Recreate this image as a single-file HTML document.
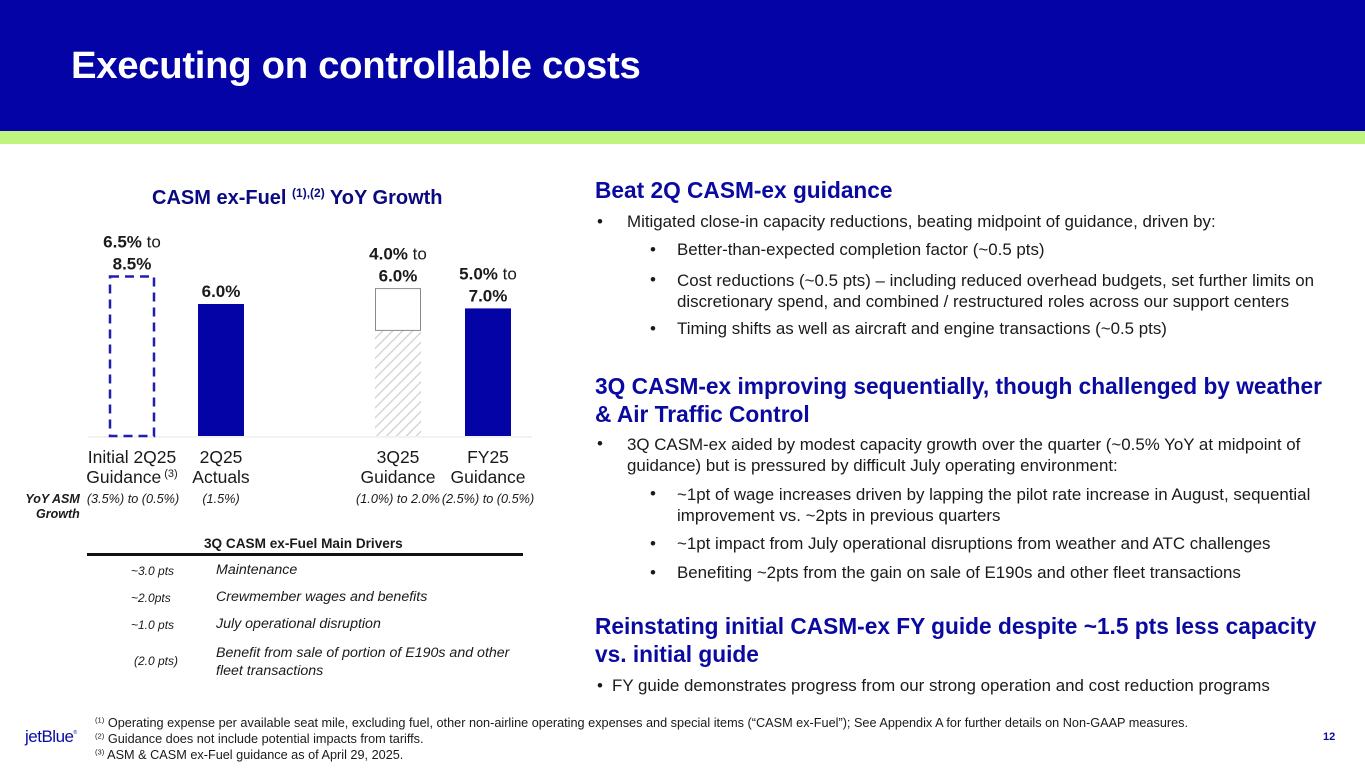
<!DOCTYPE html>
<html><head><meta charset="utf-8"><style>
*{margin:0;padding:0;box-sizing:border-box}
body{width:1365px;height:768px;position:relative;background:#fff;font-family:"Liberation Sans",Arial,sans-serif;overflow:hidden;color:#1a1a1a}
.a{position:absolute;white-space:nowrap}
.h{color:#0a0aa0;font-weight:bold;font-size:22.7px}
.t{font-size:16.9px;color:#1a1a1a}
.i{font-style:italic}
sup{font-size:60%;vertical-align:0.6em;line-height:0}
</style></head><body>
<div class="a" style="left:0;top:0;width:1365px;height:131px;background:#0303a6"></div>
<div class="a" style="left:0;top:131px;width:1365px;height:13px;background:#bff57e"></div>
<div class="a" style="left:71px;top:44px;font-size:38.3px;font-weight:bold;color:#fff;letter-spacing:-0.3px">Executing on controllable costs</div>

<div class="a" style="left:152px;top:187px;font-size:20px;font-weight:bold;color:#0a0a80">CASM ex-Fuel <sup>(1),(2)</sup> YoY Growth</div>

<svg class="a" style="left:0;top:0" width="560" height="530" id="chart"></svg>

<div class="a i" style="left:24px;top:492px;font-size:12.5px;font-weight:bold;text-align:right;line-height:15px;color:#1a1a1a">YoY ASM<br><span style="padding-left:12px">Growth</span></div>

<div class="a" style="left:204px;top:536px;font-size:13.6px;font-weight:bold">3Q CASM ex-Fuel Main Drivers</div>
<div class="a" style="left:87px;top:553px;width:436px;height:3px;background:#111"></div>
<div class="a i" style="left:131px;top:564px;font-size:12px">~3.0 pts</div>
<div class="a i" style="left:216px;top:562px;font-size:14.2px">Maintenance</div>
<div class="a i" style="left:131px;top:591px;font-size:12px">~2.0pts</div>
<div class="a i" style="left:216px;top:589px;font-size:14.2px">Crewmember wages and benefits</div>
<div class="a i" style="left:131px;top:618px;font-size:12px">~1.0 pts</div>
<div class="a i" style="left:216px;top:616px;font-size:14.2px">July operational disruption</div>
<div class="a i" style="left:134px;top:654px;font-size:12px">(2.0 pts)</div>
<div class="a i" style="left:216px;top:644px;font-size:14.2px;line-height:18px">Benefit from sale of portion of E190s and other<br>fleet transactions</div>

<div class="a h" style="left:595px;top:177px">Beat 2Q CASM-ex guidance</div>
<div class="a t" style="left:597px;top:212px">•</div>
<div class="a t" style="left:627px;top:212px">Mitigated close-in capacity reductions, beating midpoint of guidance, driven by:</div>
<div class="a t" style="left:650px;top:240px">•</div>
<div class="a t" style="left:677px;top:240px">Better-than-expected completion factor (~0.5 pts)</div>
<div class="a t" style="left:650px;top:270px">•</div>
<div class="a t" style="left:677px;top:270px;line-height:21px">Cost reductions (~0.5 pts) – including reduced overhead budgets, set further limits on<br>discretionary spend, and combined / restructured roles across our support centers</div>
<div class="a t" style="left:650px;top:319px">•</div>
<div class="a t" style="left:677px;top:319px">Timing shifts as well as aircraft and engine transactions (~0.5 pts)</div>

<div class="a h" style="left:595px;top:372px;line-height:28px">3Q CASM-ex improving sequentially, though challenged by weather<br>&amp; Air Traffic Control</div>
<div class="a t" style="left:597px;top:434px">•</div>
<div class="a t" style="left:627px;top:434px;line-height:21px">3Q CASM-ex aided by modest capacity growth over the quarter (~0.5% YoY at midpoint of<br>guidance) but is pressured by difficult July operating environment:</div>
<div class="a t" style="left:650px;top:484px">•</div>
<div class="a t" style="left:677px;top:484px;line-height:21px">~1pt of wage increases driven by lapping the pilot rate increase in August, sequential<br>improvement vs. ~2pts in previous quarters</div>
<div class="a t" style="left:650px;top:534px">•</div>
<div class="a t" style="left:677px;top:534px">~1pt impact from July operational disruptions from weather and ATC challenges</div>
<div class="a t" style="left:650px;top:563px">•</div>
<div class="a t" style="left:677px;top:563px">Benefiting ~2pts from the gain on sale of E190s and other fleet transactions</div>

<div class="a h" style="left:595px;top:612px;line-height:28px">Reinstating initial CASM-ex FY guide despite ~1.5 pts less capacity<br>vs. initial guide</div>
<div class="a t" style="left:597px;top:676px">•</div>
<div class="a t" style="left:612px;top:676px">FY guide demonstrates progress from our strong operation and cost reduction programs</div>

<div class="a" style="left:25px;top:727px;font-size:17px;color:#0a0aa0;letter-spacing:-0.5px">jetBlue<span style="font-size:5px;vertical-align:8px">®</span></div>
<div class="a" style="left:95px;top:715px;font-size:12.7px;line-height:16px;color:#1a1a1a"><sup>(1)</sup> Operating expense per available seat mile, excluding fuel, other non-airline operating expenses and special items (“CASM ex-Fuel”); See Appendix A for further details on Non-GAAP measures.<br><sup>(2)</sup> Guidance does not include potential impacts from tariffs.<br><sup>(3)</sup> ASM &amp; CASM ex-Fuel guidance as of April 29, 2025.</div>
<div class="a" style="left:1323px;top:731px;font-size:11px;font-weight:bold;color:#0a0aa0">12</div>

<script>
const categories=["Initial 2Q25|Guidance","2Q25|Actuals","3Q25|Guidance","FY25|Guidance"];
const barLow=[0,6.0,4.8,5.8];
const barHigh=[7.25,6.0,6.7,5.8];
const valueLabels=[["6.5% to","8.5%"],["","6.0%"],["4.0% to","6.0%"],["5.0% to","7.0%"]];
const asmLabels=["(3.5%) to (0.5%)","(1.5%)","(1.0%) to 2.0%","(2.5%) to (0.5%)"];
const styles=["dashed","solid","range","solid"];
const NS="http://www.w3.org/2000/svg";
const svg=document.getElementById('chart');
const base=436,ppu=22;
const y=v=>base-v*ppu;
const xc=i=>[132,221,398,488][i];
const bw=46;
function mk(t,a){const e=document.createElementNS(NS,t);for(const k in a)e.setAttribute(k,a[k]);svg.appendChild(e);return e;}
const defs=mk('defs',{});
const pat=document.createElementNS(NS,'pattern');
pat.setAttribute('id','hatch');pat.setAttribute('width','7');pat.setAttribute('height','7');pat.setAttribute('patternUnits','userSpaceOnUse');pat.setAttribute('patternTransform','rotate(45)');
const pl=document.createElementNS(NS,'line');pl.setAttribute('x1','0');pl.setAttribute('y1','0');pl.setAttribute('x2','0');pl.setAttribute('y2','7');pl.setAttribute('stroke','#cfcfcf');pl.setAttribute('stroke-width','2.5');
pat.appendChild(pl);defs.appendChild(pat);
let ax=mk('line',{x1:88,x2:532,y1:base+1,y2:base+1,stroke:'#e4e4e4','stroke-width':1});

categories.forEach((c,i)=>{
  const x0=xc(i)-bw/2;let r;
  if(styles[i]==='dashed'){
    r=mk('rect',{x:x0+1,y:y(barHigh[i]),width:bw-2,height:base-y(barHigh[i]),fill:'none',stroke:'#1e1eb0','stroke-width':2.5,'stroke-dasharray':'9,6'});
  }else if(styles[i]==='range'){
    r=mk('rect',{x:x0,y:y(barLow[i]),width:bw,height:base-y(barLow[i]),fill:'url(#hatch)'});
    const r2=mk('rect',{x:x0+0.5,y:y(barHigh[i]),width:bw-1,height:y(barLow[i])-y(barHigh[i]),fill:'#fff',stroke:'#8a8a8a','stroke-width':1});
    
  }else{
    r=mk('rect',{x:x0,y:y(barHigh[i]),width:bw,height:base-y(barHigh[i]),fill:'#0303a6'});
  }
  
  
  const top=y(barHigh[i]);
  valueLabels[i].forEach((l,j)=>{
    if(!l)return;
    const t=mk('text',{x:xc(i),y:top-29+j*22,'text-anchor':'middle','font-size':17,'font-family':'Liberation Sans, sans-serif',fill:'#1a1a1a'});
    const m=l.match(/^([\d.%]+)(.*)$/);
    const b=document.createElementNS(NS,'tspan');b.setAttribute('font-weight','bold');b.textContent=m[1];t.appendChild(b);
    if(m[2]){const s=document.createElementNS(NS,'tspan');s.textContent=m[2];t.appendChild(s);}
    
    
  });
  c.split('|').forEach((l,j)=>{
    const t=mk('text',{x:xc(i),y:463+j*20,'text-anchor':'middle','font-size':17.5,'font-family':'Liberation Sans, sans-serif',fill:'#1a1a1a'});
    t.textContent=l;
    if(i===0&&j===1){const s=document.createElementNS(NS,'tspan');s.setAttribute('font-size','11');s.setAttribute('dy','-6');s.textContent=' (3)';t.appendChild(s);}
    
    
  });
  const a=mk('text',{x:xc(i)+(i===0?1:0),y:503,'text-anchor':'middle','font-size':12.7,'font-style':'italic','font-family':'Liberation Sans, sans-serif',fill:'#1a1a1a'});
  a.textContent=asmLabels[i];
  
  
});
</script>
</body></html>
